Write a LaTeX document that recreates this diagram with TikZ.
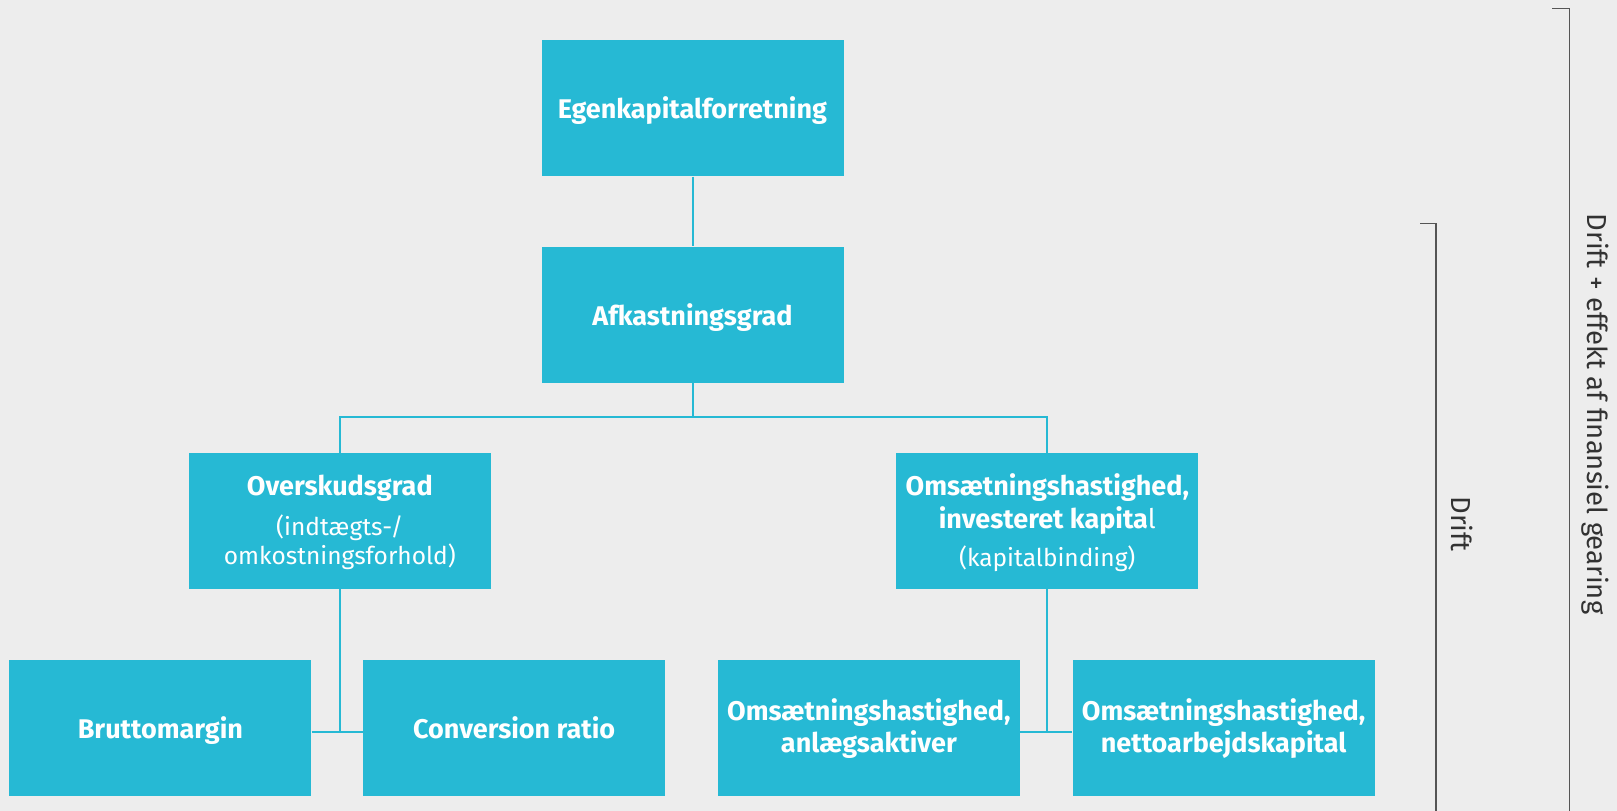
\documentclass[tikz,border=0pt]{standalone}
\usepackage{fontspec}
\setmainfont{Fira Sans}
\definecolor{boxcyan}{RGB}{38,185,212}
\definecolor{bggrey}{RGB}{237,237,237}
\definecolor{brkgrey}{RGB}{85,85,85}
\definecolor{txtgrey}{RGB}{50,50,50}
\newcommand{\lite}[1]{{\fontsize{24.5}{32}\selectfont\mdseries #1}}
\begin{document}
\begin{tikzpicture}[x=1pt,y=-1pt,
  kbox/.style={fill=boxcyan, draw=none, minimum width=302pt, minimum height=136pt,
    inner sep=0pt, text=white, align=center, font=\fontsize{27}{32}\selectfont\bfseries},
  oneline/.style={text height=30pt, text depth=9pt},
  twoline/.style={text height=60.4pt, text depth=10pt},
  link/.style={draw=boxcyan, line width=2pt},
  bracket/.style={draw=brkgrey, line width=1.3pt},
  sidelabel/.style={text=txtgrey, font=\fontsize{27.5}{32}\selectfont, rotate=-90, inner sep=0pt}]
\fill[bggrey] (0,0) rectangle (1617,811);
\useasboundingbox (0,0) rectangle (1617,811);

\node[kbox, oneline] (ek) at (692.5,108.3) {Egenkapitalforretning};
\node[kbox, oneline] (af) at (692.5,314.5) {Afkastningsgrad};
\node[kbox, text height=95pt, text depth=8pt] (ov) at (339.8,520.8) {Overskudsgrad\\[8pt]\lite{(indtægts-/}\\[-3.5pt]\lite{omkostningsforhold)}};
\node[kbox, text height=100pt, text depth=8pt] (oi) at (1047.3,520.8) {Omsætningshastighed,\\[1pt]investeret kapita{\mdseries l}\\[6.5pt]\lite{(kapitalbinding)}};
\node[kbox, oneline] (bm) at (160.4,727.6) {Bruttomargin};
\node[kbox, oneline] (cr) at (514.1,727.6) {Conversion ratio};
\node[kbox, twoline] (oa) at (868.9,727.6) {Omsætningshastighed,\\anlægsaktiver};
\node[kbox, twoline] (on) at (1223.6,727.6) {Omsætningshastighed,\\nettoarbejdskapital};

\coordinate (bus) at (692.5,416.6);
\coordinate (jl) at (339.8,731.5);
\coordinate (jr) at (1047.3,731.5);

\draw[link] (ek.south) -- (af.north);
\draw[link] (af.south) -- (bus);
\draw[link] (ov.north) |- (bus) -| (oi.north);
\draw[link] (ov.south) -- (jl);
\draw[link] (bm.east |- jl) -- (cr.west |- jl);
\draw[link] (oi.south) -- (jr);
\draw[link] (oa.east |- jr) -- (on.west |- jr);

\coordinate (b1t) at (1552,8.3);
\coordinate (b1c) at (1569.6,8.3);
\coordinate (b1b) at (1569.6,811);
\coordinate (b2t) at (1420,223.8);
\coordinate (b2c) at (1436,223.8);
\coordinate (b2b) at (1436,811);
\draw[bracket] (b1t) -- (b1c) -- (b1b);
\draw[bracket] (b2t) -- (b2c) -- (b2b);

\node[sidelabel] (l1) at (1595.5,414) {Drift + effekt af finansiel gearing};
\node[sidelabel] (l2) at (1462,524) {Drift};
\end{tikzpicture}
\end{document}
